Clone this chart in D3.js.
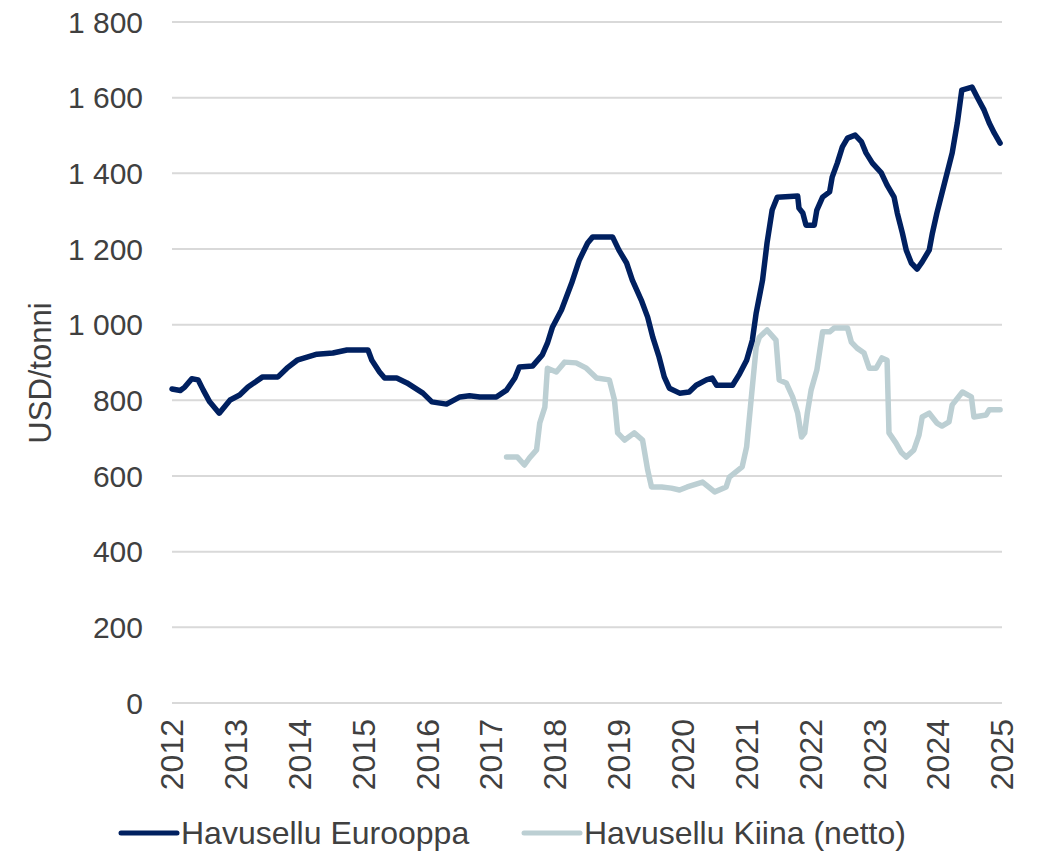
<!DOCTYPE html>
<html>
<head>
<meta charset="utf-8">
<script src="https://cdn.jsdelivr.net/npm/d3@7"></script>
<style>
  body { margin: 0; background: #fff; }
  text { font-family: "Liberation Sans", Arial, sans-serif; fill: #404040; }
</style>
</head>
<body>
<div id="chart"></div>
<script>
const width = 1037;
const height = 853;
const navy = "#002060";
const lightBlue = "#bccfd3";
const gridColor = "#d9d9d9";

// Havusellu Eurooppa (USD/tonni), time as decimal year
const euroTime = [2012.0, 2012.13, 2012.2, 2012.31, 2012.41, 2012.49, 2012.59, 2012.74, 2012.91, 2013.06,
  2013.19, 2013.42, 2013.66, 2013.8, 2013.96, 2014.27, 2014.52, 2014.74, 2015.07, 2015.13,
  2015.25, 2015.33, 2015.52, 2015.68, 2015.93, 2016.07, 2016.3, 2016.51, 2016.66, 2016.82,
  2017.08, 2017.24, 2017.37, 2017.44, 2017.65, 2017.8, 2017.88, 2017.96, 2018.1, 2018.26,
  2018.38, 2018.51, 2018.59, 2018.9, 2019.0, 2019.12, 2019.21, 2019.35, 2019.45, 2019.53,
  2019.63, 2019.71, 2019.79, 2019.95, 2020.1, 2020.21, 2020.37, 2020.46, 2020.53, 2020.78,
  2020.89, 2021.0, 2021.09, 2021.15, 2021.25, 2021.32, 2021.4, 2021.48, 2021.8, 2021.82,
  2021.88, 2021.93, 2022.06, 2022.1, 2022.19, 2022.3, 2022.34, 2022.42, 2022.5, 2022.58,
  2022.7, 2022.8, 2022.87, 2022.97, 2023.11, 2023.2, 2023.31, 2023.36, 2023.44, 2023.5,
  2023.58, 2023.67, 2023.75, 2023.86, 2023.91, 2023.98, 2024.06, 2024.14, 2024.22, 2024.3,
  2024.37, 2024.53, 2024.61, 2024.72, 2024.8, 2024.88, 2024.97];
const euroValues = [830, 826, 835, 857, 854, 827, 796, 766, 801, 814,
  835, 862, 862, 885, 906, 922, 925, 933, 933, 906,
  875, 859, 859, 846, 819, 796, 790, 809, 812, 809,
  809, 827, 859, 888, 891, 920, 951, 994, 1039, 1110,
  1171, 1216, 1232, 1232, 1197, 1163, 1118, 1065, 1020, 967,
  914, 862, 832, 819, 822, 840, 854, 859, 840, 840,
  870, 906, 959, 1031, 1118, 1216, 1303, 1337, 1340, 1308,
  1295, 1263, 1263, 1303, 1337, 1351, 1390, 1427, 1470, 1493,
  1501, 1483, 1454, 1427, 1401, 1369, 1337, 1295, 1242, 1197,
  1163, 1147, 1166, 1197, 1242, 1295, 1348, 1401, 1454, 1533,
  1620, 1628, 1602, 1567, 1533, 1506, 1480];

// Havusellu Kiina (netto)
const chinaTime = [2017.24, 2017.41, 2017.52, 2017.6, 2017.71, 2017.76, 2017.84, 2017.88, 2018.02, 2018.15,
  2018.33, 2018.49, 2018.65, 2018.85, 2018.93, 2018.98, 2019.09, 2019.24, 2019.37, 2019.45,
  2019.51, 2019.67, 2019.82, 2019.95, 2020.07, 2020.31, 2020.5, 2020.68, 2020.73, 2020.93,
  2021.0, 2021.07, 2021.15, 2021.2, 2021.32, 2021.46, 2021.51, 2021.62, 2021.72, 2021.8,
  2021.86, 2021.91, 2021.95, 2022.01, 2022.1, 2022.19, 2022.3, 2022.37, 2022.58, 2022.64,
  2022.73, 2022.84, 2022.92, 2023.03, 2023.12, 2023.2, 2023.23, 2023.34, 2023.42, 2023.5,
  2023.62, 2023.7, 2023.75, 2023.86, 2023.98, 2024.06, 2024.17, 2024.22, 2024.38, 2024.52,
  2024.56, 2024.75, 2024.8, 2024.97];
const chinaValues = [650, 650, 629, 648, 669, 740, 782, 885, 875, 901,
  899, 885, 859, 854, 801, 714, 695, 714, 695, 616,
  571, 571, 568, 563, 571, 584, 558, 571, 597, 624,
  677, 801, 941, 967, 986, 959, 854, 846, 809, 766,
  703, 714, 766, 827, 880, 981, 981, 991, 991, 954,
  938, 925, 885, 885, 912, 906, 714, 687, 663, 650,
  669, 708, 756, 766, 740, 732, 743, 788, 822, 809,
  756, 761, 775, 775];

const yearTicks = d3.range(2012, 2026);
const valueTicks = d3.range(0, 1801, 200);
const seriesNames = ["Havusellu Eurooppa", "Havusellu Kiina (netto)"];
const seriesColors = [navy, lightBlue];

const svg = d3.select("#chart")
    .append("svg")
    .attr("width", width)
    .attr("height", height);

const x = d3.scaleLinear().domain([2012, 2025]).range([172, 1002]);
const y = d3.scaleLinear().domain([0, 1800]).range([703, 22]);

// Gridlines
svg.append("g")
    .selectAll("line")
    .data(valueTicks)
    .join("line")
    .attr("x1", x(2012))
    .attr("x2", x(2025))
    .attr("y1", d => y(d))
    .attr("y2", d => y(d))
    .attr("stroke", gridColor)
    .attr("stroke-width", 2);

// Y tick labels (space as thousands separator)
const fmt = d => d >= 1000 ? Math.floor(d / 1000) + " " + d3.format("03d")(d % 1000) : String(d);
svg.append("g")
    .selectAll("text")
    .data(valueTicks)
    .join("text")
    .attr("x", 143)
    .attr("y", d => y(d))
    .attr("dy", "0.35em")
    .attr("text-anchor", "end")
    .style("font-size", "30px")
    .text(fmt);

// Year labels, rotated
svg.append("g")
    .selectAll("text")
    .data(yearTicks)
    .join("text")
    .attr("transform", d => `translate(${x(d)},719) rotate(-90)`)
    .attr("dy", "0.35em")
    .attr("text-anchor", "end")
    .style("font-size", "32px")
    .text(d => d);

// Axis title
svg.append("text")
    .attr("transform", "translate(51,373) rotate(-90)")
    .attr("text-anchor", "middle")
    .style("font-size", "31px")
    .text("USD/tonni");

const line = d3.line()
    .x(d => x(d[0]))
    .y(d => y(d[1]));

const chinaData = d3.zip(chinaTime, chinaValues);
const euroData = d3.zip(euroTime, euroValues);

svg.append("path")
    .datum(chinaData)
    .attr("fill", "none")
    .attr("stroke", lightBlue)
    .attr("stroke-width", 5.5)
    .attr("stroke-linejoin", "round")
    .attr("stroke-linecap", "round")
    .attr("d", line);

svg.append("path")
    .datum(euroData)
    .attr("fill", "none")
    .attr("stroke", navy)
    .attr("stroke-width", 5.5)
    .attr("stroke-linejoin", "round")
    .attr("stroke-linecap", "round")
    .attr("d", line);

// Legend
const legendX = [121, 524];
const legend = svg.append("g")
    .selectAll("g")
    .data(seriesNames)
    .join("g")
    .attr("transform", (d, i) => `translate(${legendX[i]},833)`);

legend.append("line")
    .attr("x1", 0)
    .attr("x2", 56)
    .attr("stroke", (d, i) => seriesColors[i])
    .attr("stroke-width", 5)
    .attr("stroke-linecap", "round");

legend.append("text")
    .attr("x", 60)
    .attr("dy", "0.35em")
    .style("font-size", "32px")
    .text(d => d);
</script>
</body>
</html>
